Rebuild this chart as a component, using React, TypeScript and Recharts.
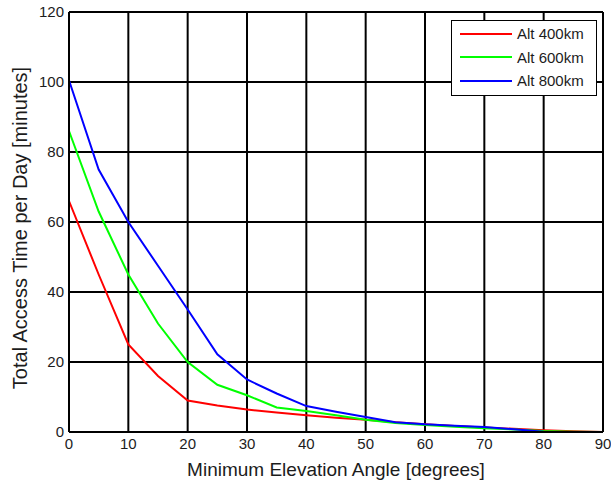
import { CartesianGrid, Line, LineChart, XAxis, YAxis } from "recharts";

// elevation angle samples, degrees
const angles = [0, 5, 10, 15, 20, 25, 30, 35, 40, 45, 50, 55, 60, 65, 70, 75, 80, 85, 90];

// total access time per day, minutes
const alt400 = [66, 45, 25, 16, 9, 7.6, 6.4, 5.6, 4.8, 4.1, 3.5, 2.8, 2.2, 1.7, 1.3, 0.9, 0.5, 0.2, 0];
const alt600 = [86, 63, 45, 31, 20, 13.5, 10.5, 7, 6, 4.8, 3.5, 2.6, 2, 1.5, 1.1, 0.7, 0.3, 0.1, 0];
const alt800 = [100.5, 75, 60, 47.5, 35, 22.2, 15, 11, 7.4, 5.8, 4.3, 2.8, 2.2, 1.8, 1.4, 0.8, 0.1, 0, 0];

const xTicks = [0, 10, 20, 30, 40, 50, 60, 70, 80, 90];
const yTicks = [0, 20, 40, 60, 80, 100, 120];

const seriesKeys = ["alt400", "alt600", "alt800"];
const seriesNames = ["Alt 400km", "Alt 600km", "Alt 800km"];
const seriesColors = ["#ff0000", "#00ff00", "#0000ff"];

const data = angles.map((angle, i) => ({
  angle,
  alt400: alt400[i],
  alt600: alt600[i],
  alt800: alt800[i],
}));

const FONT = "'Liberation Sans', Arial, sans-serif";
const TEXT = "#1c1c1c";

const tickStyle = { fontSize: 15, fill: TEXT, fontFamily: FONT };

// boxed legend in the upper right corner of the axes
function LegendBox() {
  return (
    <div
      style={{
        position: "absolute",
        left: 451,
        top: 20,
        width: 144,
        height: 73,
        border: "1px solid #000",
        background: "#fff",
        paddingTop: 1,
        fontFamily: FONT,
        fontSize: 15,
        color: TEXT,
      }}
    >
      {seriesNames.map((name, i) => (
        <div key={name} style={{ display: "flex", alignItems: "center", height: 23.5 }}>
          <div style={{ marginLeft: 8, width: 52, height: 2, background: seriesColors[i] }} />
          <span style={{ marginLeft: 5, lineHeight: 1 }}>{name}</span>
        </div>
      ))}
    </div>
  );
}

export default function App() {
  return (
    <div style={{ position: "absolute", left: 0, top: 0, width: 611, height: 481, background: "#fff" }}>
      <LineChart width={611} height={481} data={data} margin={{ top: 12, right: 8, left: 0, bottom: 0 }}>
        <CartesianGrid stroke="#000" strokeWidth={2} horizontalValues={yTicks} verticalValues={xTicks} />
        <XAxis
          dataKey="angle"
          type="number"
          domain={[0, 90]}
          ticks={xTicks}
          interval={0}
          height={49}
          tick={tickStyle}
          tickLine={false}
          tickSize={4}
          tickMargin={2}
          axisLine={{ stroke: "#000", strokeWidth: 2 }}
          label={{
            value: "Minimum Elevation Angle [degrees]",
            position: "insideBottom",
            offset: 5,
            style: { fontSize: 19, fill: TEXT, fontFamily: FONT },
          }}
        />
        <YAxis
          type="number"
          domain={[0, 120]}
          ticks={yTicks}
          interval={0}
          width={69}
          tick={tickStyle}
          tickLine={false}
          tickSize={3}
          tickMargin={2}
          axisLine={{ stroke: "#000", strokeWidth: 2 }}
          label={{
            value: "Total Access Time per Day [minutes]",
            angle: -90,
            position: "insideLeft",
            offset: 20,
            dy: 6,
            style: { textAnchor: "middle", fontSize: 20, fill: TEXT, fontFamily: FONT },
          }}
        />
        {seriesKeys.map((key, i) => (
          <Line
            key={key}
            type="linear"
            dataKey={key}
            name={seriesNames[i]}
            stroke={seriesColors[i]}
            strokeWidth={2}
            dot={false}
            isAnimationActive={false}
          />
        ))}
      </LineChart>
      <LegendBox />
    </div>
  );
}
